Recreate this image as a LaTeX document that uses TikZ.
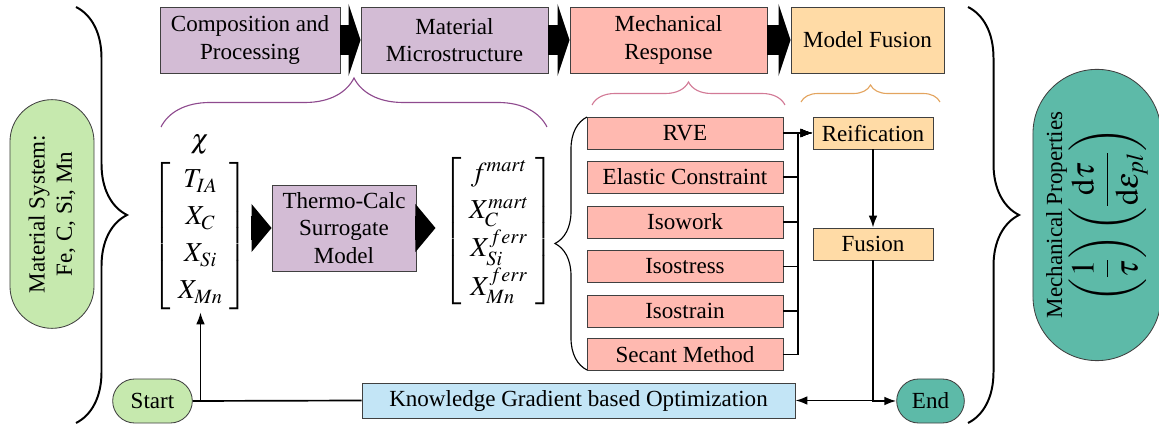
\documentclass[tikz,border=0pt]{standalone}
\usepackage{amsmath}
\usepackage{mathptmx}
\usepackage[no-math]{fontspec}
\setmainfont{Liberation Serif}
\usetikzlibrary{arrows.meta, shapes.misc, decorations.pathreplacing}

\definecolor{procpurple}{HTML}{D3BCD5}
\definecolor{mechpink}{HTML}{FFB9B0}
\definecolor{fuseorange}{HTML}{FFDBA6}
\definecolor{termgreen}{HTML}{C6E9AE}
\definecolor{termteal}{HTML}{5DBAA8}
\definecolor{optblue}{HTML}{C3E5F6}
\definecolor{bracepurple}{HTML}{8E4A8E}
\definecolor{bracepink}{HTML}{D27A96}
\definecolor{braceorange}{HTML}{E3A45F}

\renewcommand{\arraystretch}{1.12}
\setlength{\arraycolsep}{5pt}

\begin{document}
\begin{tikzpicture}[
        x=0.025cm, y=-0.025cm,
        font=\fontsize{16.4}{19.5}\selectfont,
        box/.style={rectangle, draw=black!75, line width=0.6pt, align=center, inner sep=2pt},
        stage/.style={box, minimum height=1.65cm},
        method/.style={box, fill=mechpink, minimum width=4.9cm, minimum height=0.8cm},
        fusebox/.style={box, fill=fuseorange, minimum width=3cm, minimum height=0.8cm},
        term/.style={rounded rectangle, draw=black!75, line width=0.6pt, align=center},
        vec/.style={font=\fontsize{19.5}{23.5}\selectfont, inner sep=1.5pt},
        bigarrow/.style={line width=0.75cm, -{Triangle[length=0.3cm, width=1.8cm, line width=0pt]}},
        midarrow/.style={line width=0.6cm, -{Triangle[length=0.5cm, width=1.2cm, line width=0pt]}},
        conn/.style={line width=1.2pt, -{Latex[length=0.3cm, width=0.22cm]}},
        bigbrace/.style={decorate, decoration={brace, amplitude=1.275cm}, line width=1.4pt},
        thinbrace/.style={decorate, line width=0.8pt}
    ]
    \useasboundingbox (0,0) rectangle (1159,425);

    % Define top stages
    \node[stage, fill=procpurple, minimum width=4.5cm] (comp) at (250,40) {Composition and\\Processing};
    \node[stage, fill=procpurple, minimum width=4.675cm] (micro) at (454.5,40) {Material\\Microstructure};
    \node[stage, fill=mechpink, minimum width=4.925cm] (mech) at (668.5,40) {Mechanical\\Response};
    \node[stage, fill=fuseorange, minimum width=3.825cm] (fuse) at (867.5,40) {Model Fusion};

    % Define system and property terminals
    \node[term, fill=termgreen, rotate=90, minimum width=5.95cm, minimum height=2.1cm] (matsys) at (52,214) {Material System:\\Fe, C, Si, Mn};
    \node[term, fill=termteal, rotate=90, minimum width=7.35cm, minimum height=3.2cm, inner sep=1pt] (mechprop) at (1097,215) {Mechanical Properties\\{\fontsize{23}{26}\selectfont$\displaystyle\left(\frac{1}{\tau}\right)\left(\frac{\mathrm{d}\tau}{\mathrm{d}\epsilon_{pl}}\right)$}};
    \node[term, fill=termgreen, minimum width=2.225cm, minimum height=1.1cm] (start) at (152.5,401) {Start};
    \node[term, fill=termteal, minimum width=1.925cm, minimum height=1.1cm] (end) at (930.5,401) {End};
    \node[box, fill=optblue, minimum width=10.825cm, minimum height=0.875cm] (kg) at (578.5,400.5) {Knowledge Gradient based Optimization};

    % Define surrogate chain
    \node[vec] (chi) at (200,145) {$\chi$};
    \node[vec] (inputs) at (200.5,236) {$\left[\begin{array}{c}T_{IA}\\ X_{C}\\ X_{Si}\\ X_{Mn}\end{array}\right]$};
    \node[box, fill=procpurple, minimum width=3.6cm, minimum height=2.15cm] (tc) at (344,228) {Thermo-Calc\\Surrogate\\Model};
    \node[vec] (outputs) at (499,231) {$\left[\begin{array}{c}f^{mart}\\ X_{C}^{mart}\\ X_{Si}^{ferr}\\ X_{Mn}^{ferr}\end{array}\right]$};

    % Define mechanical models
    \node[method] (rve) at (685,133) {RVE};
    \node[method] (elastic) at (685,177) {Elastic Constraint};
    \node[method] (isowork) at (685,222) {Isowork};
    \node[method] (isostress) at (685,266.5) {Isostress};
    \node[method] (isostrain) at (685,311) {Isostrain};
    \node[method] (secant) at (685,354.5) {Secant Method};

    % Define fusion steps
    \node[fusebox] (reif) at (873,133) {Reification};
    \node[fusebox] (fusion) at (873,244) {Fusion};
    \coordinate (bus) at (798,133);

    % Stage arrows
    \draw[bigarrow] (comp.east) -- (micro.west);
    \draw[bigarrow] (micro.east) -- (mech.west);
    \draw[bigarrow] (mech.east) -- (fuse.west);
    \draw[midarrow] (tc.west -| inputs.east) -- (tc.west);
    \draw[midarrow, shorten >=0.15cm] (tc.east) -- (tc.east -| outputs.west);

    % Connectors
    \foreach \m in {rve, elastic, isowork, isostress, isostrain, secant}
        \draw[conn] (\m.east) -| (bus) |- (reif.west);
    \draw[conn] (reif) -- (fusion);
    \draw[conn] (fusion.south) |- (kg.east);
    \draw[conn] (fusion.south) |- (end.west);
    \draw[line width=1.2pt] (start.east) -- (kg.west);
    \draw[conn] (inputs.south |- start.east) -- (inputs.south);

    % Braces
    \draw[bigbrace] (76,7) -- (76,423);
    \draw[bigbrace] (968,7) -- (968,423);
    \draw[thinbrace, draw=bracepurple, decoration={brace, amplitude=1.225cm}] (161,127) -- (547,127);
    \draw[thinbrace, draw=bracepink, decoration={brace, amplitude=0.575cm}] (592,105) -- (785,105);
    \draw[thinbrace, draw=braceorange, decoration={brace, amplitude=0.425cm}] (801,102) -- (940,102);
    \draw[thinbrace, decoration={brace, amplitude=0.8cm}] (587,370) -- (587,117);

\end{tikzpicture}
\end{document}
